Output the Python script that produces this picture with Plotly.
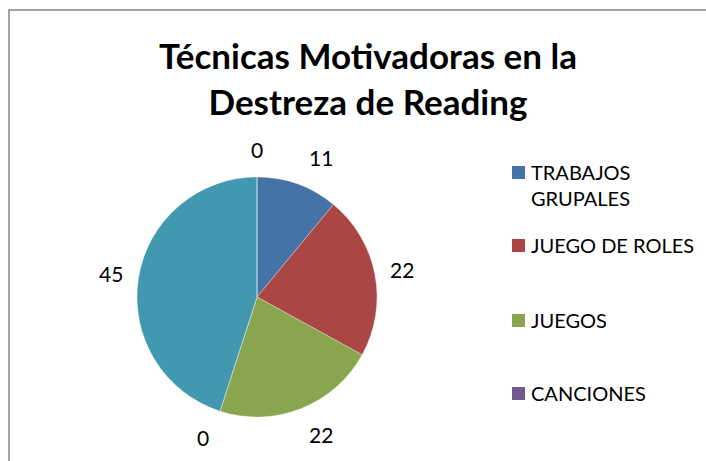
import math
import plotly.graph_objects as go

categories = ["TRABAJOS GRUPALES", "JUEGO DE ROLES", "JUEGOS", "CANCIONES", "LECTURAS", "OTROS"]
values = [11, 22, 22, 0, 45, 0]
colors = ["#4572A7", "#AA4643", "#89A54E", "#71588F", "#4198AF", "#DB843D"]
legend_labels = ["TRABAJOS<br>GRUPALES", "JUEGO DE ROLES", "JUEGOS", "CANCIONES"]

W, H = 706, 461
FONT = "Lato, Carlito, Calibri, sans-serif"

# pie geometry (pixels)
CX, CY, R = 257, 297, 120
LABEL_R = 148
label_nudge_x = [14, 0, 10, -8, 0, 0]

def px(x):
    return x / W

def py(y):
    return 1 - y / H

fig = go.Figure()
fig.add_trace(go.Pie(
    labels=categories,
    values=values,
    sort=False,
    direction="clockwise",
    rotation=0,
    marker=dict(colors=colors, line=dict(color="rgba(255,255,255,0.6)", width=0.5)),
    textinfo="none",
    showlegend=False,
    hoverinfo="label+value",
    domain=dict(x=[px(CX - R), px(CX + R)], y=[py(CY + R), py(CY - R)]),
))

shapes = [dict(type="rect", xref="paper", yref="paper",
               x0=px(9), y0=py(10), x1=px(W + 20), y1=py(H + 20),
               line=dict(color="#868686", width=1.5), fillcolor="rgba(0,0,0,0)")]
annotations = []

# data labels placed at slice mid-angles
total = sum(values)
cum = 0
for v, dx in zip(values, label_nudge_x):
    mid = (cum + v / 2) / total * 2 * math.pi
    cum += v
    lx = CX + LABEL_R * math.sin(mid) + dx
    ly = CY - LABEL_R * math.cos(mid)
    annotations.append(dict(text=str(v), xref="paper", yref="paper",
                            x=px(lx), y=py(ly), xanchor="center", yanchor="middle",
                            showarrow=False,
                            font=dict(family=FONT, size=21, color="#000000")))

legend_y = [172, 245, 320, 393]
for lab, col, yc in zip(legend_labels, colors, legend_y):
    shapes.append(dict(type="rect", xref="paper", yref="paper",
                       x0=px(512), x1=px(525), y0=py(yc + 7), y1=py(yc - 6),
                       line=dict(width=0), fillcolor=col))
    annotations.append(dict(text=lab, xref="paper", yref="paper",
                            x=px(529), y=py(yc - 14), xanchor="left", yanchor="top",
                            align="left", showarrow=False,
                            font=dict(family=FONT, size=20, color="#000000")))

# chart title
annotations.append(dict(text="<b>Técnicas Motivadoras en la<br>Destreza de Reading</b>",
                        xref="paper", yref="paper", x=px(368), y=py(78),
                        xanchor="center", yanchor="middle", align="center",
                        showarrow=False,
                        font=dict(family=FONT, size=35, color="#000000")))

fig.update_layout(
    width=W, height=H,
    margin=dict(l=0, r=0, t=0, b=0),
    paper_bgcolor="#FFFFFF",
    plot_bgcolor="#FFFFFF",
    shapes=shapes,
    annotations=annotations,
)

fig.write_html("out.html", config={"displayModeBar": False},
               post_script="document.body.style.margin='0';")
